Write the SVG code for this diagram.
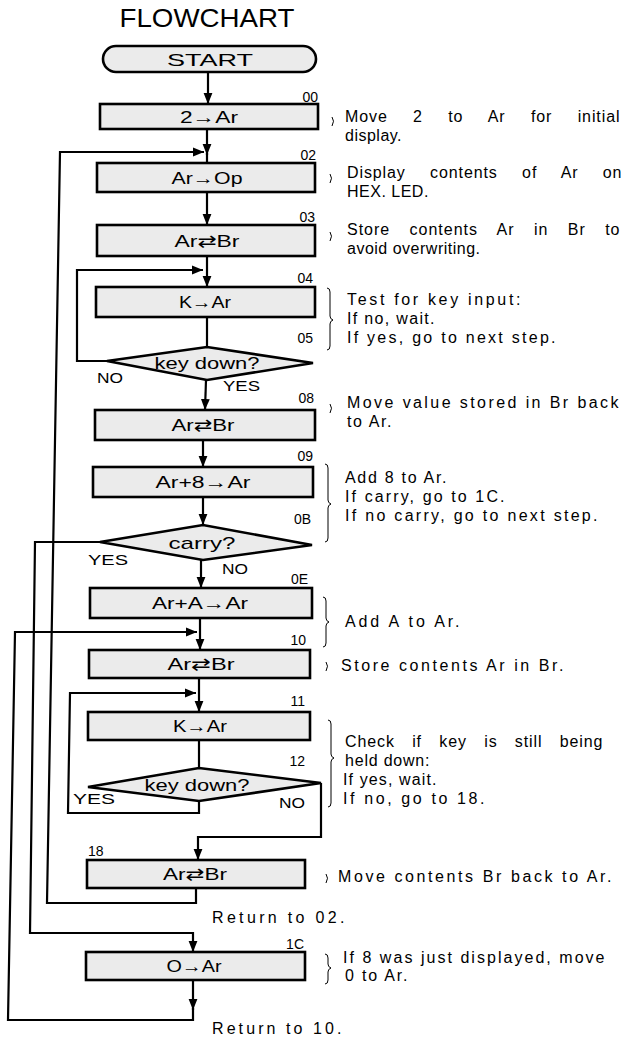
<svg xmlns="http://www.w3.org/2000/svg" width="624" height="1037" viewBox="0 0 624 1037">
<defs>
<marker id="ah" viewBox="0 0 10 10" refX="10" refY="5" markerWidth="11" markerHeight="11" markerUnits="userSpaceOnUse" orient="auto"><path d="M0,1 L10,5 L0,9 z" fill="#000"/></marker>
</defs>
<style>
.box{fill:#ebebeb;stroke:#000;stroke-width:2.6}
.ln{fill:none;stroke:#000;stroke-width:2.2}
.arr{fill:none;stroke:#000;stroke-width:2.2;marker-end:url(#ah)}
.br{fill:none;stroke:#000;stroke-width:1}
text{font-family:"Liberation Sans","DejaVu Sans",Arial,sans-serif;fill:#000}
.bt{font-size:17px;text-anchor:middle}
.lb{font-size:14px;text-anchor:end}
.yn{font-size:15px}
.cm{font-size:16px;letter-spacing:0.5px}
.ti{font-size:25px;text-anchor:middle}
</style>
<rect width="624" height="1037" fill="#fff"/>
<text class="ti" x="207" y="27" textLength="175" lengthAdjust="spacingAndGlyphs">FLOWCHART</text>

<g id="connectors">
<path class="arr" d="M208,72 L208,104"/>
<path class="arr" d="M207,129 L207,155"/><path class="ln" d="M207,153 L207,163"/>
<path class="arr" d="M196,888 L196,903 L47,903 L60,152 L204,152"/>
<path class="arr" d="M207,192 L207,225"/>
<path class="arr" d="M207,256 L207,287"/>
<path class="arr" d="M107,361 L77,361 L77,270 L203,270"/>
<path class="ln" d="M207,317 L207,347"/>
<path class="arr" d="M206,380 L205,410"/>
<path class="arr" d="M203,440 L203,467"/>
<path class="arr" d="M203,497 L203,525"/>
<path class="arr" d="M201,560 L201,588"/>
<path class="arr" d="M100,542 L35,542 L30,933 L193,933 L193,952"/>
<path class="arr" d="M200,618 L200,650"/>
<path class="arr" d="M193,980 L193,1010"/>
<path class="arr" d="M193,1008 L193,1020 L8,1020 L15,632 L197,632"/>
<path class="arr" d="M199,678 L199,712"/>
<path class="ln" d="M199,740 L199,768"/>
<path class="arr" d="M199,801 L199,813 L68,813 L70,693 L196,693"/>
<path class="arr" d="M321,783 L321,837 L198,837 L198,860"/>
</g>

<g id="start"><rect class="box" x="103" y="46" width="213" height="26" rx="13"/><text class="bt" x="210" y="66" font-size="18" textLength="86" lengthAdjust="spacingAndGlyphs">START</text></g>

<g id="n00"><rect class="box" x="100" y="104" width="218" height="25"/><text class="bt" x="209" y="123" textLength="58" lengthAdjust="spacingAndGlyphs">2→Ar</text><text class="lb" x="318" y="102">00</text></g>

<g id="n02"><rect class="box" x="97" y="163" width="218" height="29"/><text class="bt" x="207" y="184" textLength="71" lengthAdjust="spacingAndGlyphs">Ar→Op</text><text class="lb" x="316" y="160">02</text></g>

<g id="n03"><rect class="box" x="97" y="225" width="218" height="31"/><text class="bt" x="207" y="247" textLength="65" lengthAdjust="spacingAndGlyphs">Ar⇄Br</text><text class="lb" x="315" y="222">03</text></g>

<g id="n04"><rect class="box" x="96" y="287" width="219" height="30"/><text class="bt" x="205" y="308" textLength="52" lengthAdjust="spacingAndGlyphs">K→Ar</text><text class="lb" x="313" y="283">04</text></g>

<g id="n05"><polygon class="box" points="107,361 207,347 313,363 207,380"/><text class="bt" x="207" y="369" textLength="105" lengthAdjust="spacingAndGlyphs">key down?</text><text class="lb" x="313" y="343">05</text>
<text class="yn" x="97" y="383" textLength="26" lengthAdjust="spacingAndGlyphs">NO</text><text class="yn" x="223" y="391" textLength="37" lengthAdjust="spacingAndGlyphs">YES</text></g>

<g id="n08"><rect class="box" x="95" y="410" width="220" height="30"/><text class="bt" x="203" y="431" textLength="63" lengthAdjust="spacingAndGlyphs">Ar⇄Br</text><text class="lb" x="314" y="403">08</text></g>

<g id="n09"><rect class="box" x="93" y="467" width="220" height="30"/><text class="bt" x="203" y="488" textLength="95" lengthAdjust="spacingAndGlyphs">Ar+8→Ar</text><text class="lb" x="313" y="461">09</text></g>

<g id="n0B"><polygon class="box" points="100,542 203,525 312,545 203,560"/><text class="bt" x="202" y="549" textLength="67" lengthAdjust="spacingAndGlyphs">carry?</text><text class="lb" x="311" y="524">0B</text>
<text class="yn" x="88" y="565" textLength="40" lengthAdjust="spacingAndGlyphs">YES</text><text class="yn" x="222" y="574" textLength="26" lengthAdjust="spacingAndGlyphs">NO</text></g>

<g id="n0E"><rect class="box" x="90" y="588" width="222" height="30"/><text class="bt" x="200" y="609" textLength="96" lengthAdjust="spacingAndGlyphs">Ar+A→Ar</text><text class="lb" x="308" y="584">0E</text></g>

<g id="n10"><rect class="box" x="89" y="650" width="221" height="28"/><text class="bt" x="201" y="670" textLength="67" lengthAdjust="spacingAndGlyphs">Ar⇄Br</text><text class="lb" x="306" y="645">10</text></g>

<g id="n11"><rect class="box" x="88" y="712" width="222" height="28"/><text class="bt" x="200" y="732" textLength="54" lengthAdjust="spacingAndGlyphs">K→Ar</text><text class="lb" x="305" y="706">11</text></g>

<g id="n12"><polygon class="box" points="88,787 199,768 321,783 199,801"/><text class="bt" x="197" y="791" textLength="105" lengthAdjust="spacingAndGlyphs">key down?</text><text class="lb" x="305" y="766">12</text>
<text class="yn" x="73" y="804" textLength="42" lengthAdjust="spacingAndGlyphs">YES</text><text class="yn" x="279" y="808" textLength="26" lengthAdjust="spacingAndGlyphs">NO</text></g>

<g id="n18"><rect class="box" x="87" y="860" width="218" height="28"/><text class="bt" x="195" y="880" textLength="64" lengthAdjust="spacingAndGlyphs">Ar⇄Br</text><text class="lb" x="88" y="856" style="text-anchor:start">18</text></g>

<g id="n1C"><rect class="box" x="86" y="952" width="219" height="28"/><text class="bt" x="194" y="972" textLength="55" lengthAdjust="spacingAndGlyphs">O→Ar</text><text class="lb" x="304" y="949">1C</text></g>

<g id="comments">
<path class="br" d="M332,117 q3,4 0,9"/>
<text class="cm" x="345" y="122" word-spacing="20" textLength="275" lengthAdjust="spacing">Move 2 to Ar for initial</text>
<text class="cm" x="345" y="141">display.</text>
<path class="br" d="M330,174 q3,4 0,9"/>
<text class="cm" x="347" y="178" word-spacing="19" textLength="275" lengthAdjust="spacing">Display contents of Ar on</text>
<text class="cm" x="347" y="197">HEX. LED.</text>
<path class="br" d="M330,232 q3,4 0,9"/>
<text class="cm" x="347" y="235" word-spacing="14" textLength="273" lengthAdjust="spacing">Store contents Ar in Br to</text>
<text class="cm" x="347" y="254">avoid overwriting.</text>
<path class="br" d="M327,288 q3,0 3,4 L330,316 q0,3 3,4 q-3,1 -3,4 L330,346 q0,4 -3,4"/>
<text class="cm" x="347" y="305" textLength="174" lengthAdjust="spacing">Test for key input:</text>
<text class="cm" x="347" y="324" textLength="88" lengthAdjust="spacing">If no, wait.</text>
<text class="cm" x="347" y="343" textLength="209" lengthAdjust="spacing">If yes, go to next step.</text>
<path class="br" d="M330,404 q3,4 0,9"/>
<text class="cm" x="347" y="408" textLength="272" lengthAdjust="spacing">Move value stored in Br back</text>
<text class="cm" x="347" y="427" textLength="45" lengthAdjust="spacing">to Ar.</text>
<path class="br" d="M325,464 q3,0 3,4 L328,500 q0,3 3,4 q-3,1 -3,4 L328,538 q0,4 -3,4"/>
<text class="cm" x="345" y="483" textLength="102" lengthAdjust="spacing">Add 8 to Ar.</text>
<text class="cm" x="345" y="502" textLength="160" lengthAdjust="spacing">If carry, go to 1C.</text>
<text class="cm" x="345" y="521" textLength="253" lengthAdjust="spacing">If no carry, go to next step.</text>
<path class="br" d="M323,597 q3,0 3,4 L326,618 q0,3 3,4 q-3,1 -3,4 L326,643 q0,4 -3,4"/>
<text class="cm" x="345" y="627" textLength="115" lengthAdjust="spacing">Add A to Ar.</text>
<path class="br" d="M326,662 q3,4 0,9"/>
<text class="cm" x="341" y="671" textLength="223" lengthAdjust="spacing">Store contents Ar in Br.</text>
<path class="br" d="M328,720 q3,0 3,4 L331,754 q0,3 3,4 q-3,1 -3,4 L331,803 q0,4 -3,4"/>
<text class="cm" x="345" y="747" word-spacing="12" textLength="258" lengthAdjust="spacing">Check if key is still being</text>
<text class="cm" x="345" y="766" textLength="85" lengthAdjust="spacing">held down:</text>
<text class="cm" x="343" y="785" textLength="94" lengthAdjust="spacing">If yes, wait.</text>
<text class="cm" x="343" y="804" textLength="142" lengthAdjust="spacing">If no, go to 18.</text>
<path class="br" d="M326,874 q3,4 0,9"/>
<text class="cm" x="338" y="882" textLength="274" lengthAdjust="spacing">Move contents Br back to Ar.</text>
<text class="cm" x="212" y="923" textLength="133" lengthAdjust="spacing">Return to 02.</text>
<path class="br" d="M325,954 q3,0 3,4 L328,964 q0,3 3,4 q-3,1 -3,4 L328,980 q0,4 -3,4"/>
<text class="cm" x="343" y="963" textLength="262" lengthAdjust="spacing">If 8 was just displayed, move</text>
<text class="cm" x="345" y="981" textLength="63" lengthAdjust="spacing">0 to Ar.</text>
<text class="cm" x="212" y="1034" textLength="130" lengthAdjust="spacing">Return to 10.</text>
</g>
</svg>
